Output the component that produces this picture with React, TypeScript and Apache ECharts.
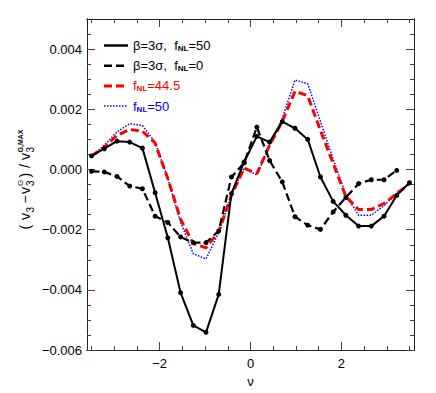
import React, { useEffect, useRef } from 'react';
import * as echarts from 'echarts';

// nu grid (x values)
const nu = [-3.5, -3.22, -2.94, -2.66, -2.38, -2.1, -1.82, -1.54, -1.26, -0.98, -0.7, -0.42, -0.14,
  0.14, 0.42, 0.7, 0.98, 1.26, 1.54, 1.82, 2.1, 2.38, 2.66, 2.94, 3.22, 3.5];

// beta=3sigma, fNL=50 (solid black with markers)
const betaF50 = [0.00045, 0.00069, 0.00094, 0.00091, 0.00071, -0.00077, -0.00227, -0.00409, -0.00518,
  -0.00541, -0.00415, -0.0008, 0.00025, 0.0011, 0.00091, 0.00159, 0.00137, 0.001, -0.00025, -0.00106,
  -0.00152, -0.00188, -0.00188, -0.00155, -0.00086, -0.00044];

// beta=3sigma, fNL=0 (dashed black with markers)
const betaF0 = [-0.00006, -0.00008, -0.00023, -0.00055, -0.00064, -0.00155, -0.00176, -0.00224, -0.00243,
  -0.00243, -0.00204, -0.00025, 0.00022, 0.00141, 0.0003, -0.00041, -0.00157, -0.00185, -0.00199,
  -0.00141, -0.00093, -0.00047, -0.00034, -0.00034, -0.00003];

// fNL=44.5 (red dashed)
const f445 = [0.00045, 0.00074, 0.00113, 0.00133, 0.00127, 0.00088, -0.0003, -0.00165, -0.00246, -0.0026,
  -0.00207, -0.00086, 0.00005, -0.00014, 0.0008, 0.0016, 0.0026, 0.00245, 0.0013, 0.0002, -0.0009,
  -0.00133, -0.00133, -0.00113, -0.0008, -0.00047];

// fNL=50 (blue dotted)
const f50 = [0.00045, 0.0008, 0.00125, 0.00152, 0.00146, 0.0009, -0.0003, -0.00175, -0.0028, -0.00297,
  -0.0021, -0.00085, 0.00005, -0.00018, 0.0008, 0.0017, 0.00297, 0.00285, 0.0016, 0.00035, -0.00085,
  -0.00152, -0.00152, -0.0012, -0.0008, -0.00045];

const xMajor = [-2, 0, 2];
const xMinor = [-3.5, -3, -2.5, -1.5, -1, -0.5, 0.5, 1, 1.5, 2.5, 3, 3.5];
const yMajor = [-0.006, -0.004, -0.002, 0, 0.002, 0.004];
const yMinor = [-0.0055, -0.005, -0.0045, -0.0035, -0.003, -0.0025, -0.0015, -0.001, -0.0005,
  0.0005, 0.001, 0.0015, 0.0025, 0.003, 0.0035, 0.0045];

const legendLabels = [
  { pre: 'β=3σ,  f', sub: 'NL', post: '=50', color: '#000000', dash: null as number[] | null, width: 2.5 },
  { pre: 'β=3σ,  f', sub: 'NL', post: '=0', color: '#000000', dash: [8, 4], width: 2.5 },
  { pre: 'f', sub: 'NL', post: '=44.5', color: '#ff0000', dash: [8, 4], width: 3 },
  { pre: 'f', sub: 'NL', post: '=50', color: '#0000ff', dash: [1.5, 1.5], width: 1.5 },
];

const FONT = 'Liberation Sans, Arial, Helvetica, sans-serif';
const AX = '#222222';

function fmtY(v: number) {
  return (v < 0 ? '\u2212' : '') + Math.abs(v).toFixed(3);
}
function fmtX(v: number) {
  return (v < 0 ? '\u2212' : '') + String(Math.abs(v));
}

function xAxisDef(position: 'top' | 'bottom', ticks: number[], len: number, labels: boolean, extra: any = {}) {
  return {
    type: 'value', min: -3.6, max: 3.6, position, gridIndex: 0,
    axisLine: { show: true, onZero: false, lineStyle: { color: AX, width: 1 } },
    axisTick: { show: true, inside: true, length: len, customValues: ticks, lineStyle: { color: '#444', width: 1 } },
    axisLabel: labels
      ? { show: true, customValues: ticks, formatter: fmtX, color: '#000', fontSize: 13, fontFamily: FONT, margin: 7 }
      : { show: false },
    splitLine: { show: false },
    ...extra,
  };
}
function yAxisDef(position: 'left' | 'right', ticks: number[], len: number, labels: boolean) {
  return {
    type: 'value', min: -0.006, max: 0.005, position, gridIndex: 0,
    axisLine: { show: true, onZero: false, lineStyle: { color: AX, width: 1 } },
    axisTick: { show: true, inside: true, length: len, customValues: ticks, lineStyle: { color: '#444', width: 1 } },
    axisLabel: labels
      ? { show: true, customValues: ticks, formatter: fmtY, color: '#000', fontSize: 13, fontFamily: FONT, margin: 5 }
      : { show: false },
    splitLine: { show: false },
  };
}

function buildYLabel() {
  // pieces: text, start (screen y, text extends upward), screen x center, font size, bold
  const pieces: [string, number, number, number, boolean][] = [
    ['(', 229.5, 25, 14, false],
    ['v', 220, 24.5, 14, false],
    ['3', 212.5, 30, 10, false],
    ['\u2212', 203.5, 25, 14, false],
    ['v', 194, 24.5, 14, false],
    ['3', 186, 30, 10, false],
    ['G', 186, 20, 8, false],
    [')', 177.5, 25, 14, false],
    ['/', 168, 25, 14, false],
    ['v', 160, 24.5, 14, false],
    ['3', 152.5, 30, 10, false],
    ['G,MAX', 152.5, 20.5, 7, true],
  ];
  return {
    type: 'group',
    x: 0, y: 0,
    rotation: Math.PI / 2,
    children: pieces.map(([t, sy, sx, fs, b]) => ({
      type: 'text',
      x: -sy, y: sx,
      style: {
        text: t, fill: '#000', fontSize: fs, fontFamily: FONT, fontWeight: b ? 'bold' : 'normal',
        align: 'left', verticalAlign: 'middle',
      },
    })),
  };
}

function buildLegend() {
  const els: any[] = [];
  legendLabels.forEach((l, i) => {
    const y = 45.5 + i * 20.2;
    els.push({
      type: 'line',
      shape: { x1: 104, y1: y, x2: 128, y2: y },
      style: { stroke: l.color, lineWidth: l.width, lineDash: l.dash || undefined },
    });
    els.push({
      type: 'text',
      x: 133, y,
      style: {
        text: `{m|${l.pre}}{s|${l.sub}}{m|${l.post}}`,
        verticalAlign: 'middle', align: 'left',
        rich: {
          m: { fontSize: 13, fontFamily: FONT, fill: l.color, lineHeight: 16 },
          s: { fontSize: 8, fontFamily: FONT, fontWeight: 'bold', fill: l.color, lineHeight: 8, padding: [7, 0, 1, 0] },
        },
      },
    });
  });
  return els;
}

export default function App() {
  const ref = useRef<HTMLDivElement>(null);
  useEffect(() => {
    if (!ref.current) return;
    const chart = echarts.init(ref.current, null, { renderer: 'svg' });
    const pts = (arr: number[]) => arr.map((v, i) => [nu[i], v]);
    chart.setOption({
      animation: false,
      backgroundColor: '#ffffff',
      grid: { left: 87, right: 22, top: 19, bottom: 39, containLabel: false },
      xAxis: [
        xAxisDef('bottom', xMajor, 8, true, {
          name: '\u03bd', nameLocation: 'middle', nameGap: 21,
          nameTextStyle: { color: '#000', fontSize: 13, fontFamily: FONT },
        }),
        xAxisDef('bottom', xMinor, 4, false),
        xAxisDef('top', xMajor, 8, false),
        xAxisDef('top', xMinor, 4, false),
      ],
      yAxis: [
        yAxisDef('left', yMajor, 8, true),
        yAxisDef('left', yMinor, 4, false),
        yAxisDef('right', yMajor, 8, false),
        yAxisDef('right', yMinor, 4, false),
      ],
      series: [
        {
          name: 'fNL=50', type: 'line', data: pts(f50), showSymbol: false, symbol: 'none',
          lineStyle: { color: '#0000ff', width: 1.5, type: [1.5, 1.5] }, z: 2,
        },
        {
          name: 'fNL=44.5', type: 'line', data: pts(f445), showSymbol: false, symbol: 'none',
          lineStyle: { color: '#ff0000', width: 3, type: [8, 4] }, z: 3,
        },
        {
          name: 'beta=3sigma, fNL=0', type: 'line', data: pts(betaF0), symbol: 'circle', symbolSize: 5,
          itemStyle: { color: '#000' }, lineStyle: { color: '#000', width: 2.2, type: [8, 4] }, z: 4,
        },
        {
          name: 'beta=3sigma, fNL=50', type: 'line', data: pts(betaF50), symbol: 'circle', symbolSize: 5,
          itemStyle: { color: '#000' }, lineStyle: { color: '#000', width: 2 }, z: 5,
        },
      ],
      graphic: [buildYLabel(), ...buildLegend()],
    });
    return () => chart.dispose();
  }, []);
  return <div ref={ref} style={{ position: 'absolute', left: 0, top: 0, width: 436, height: 393 }} />;
}
